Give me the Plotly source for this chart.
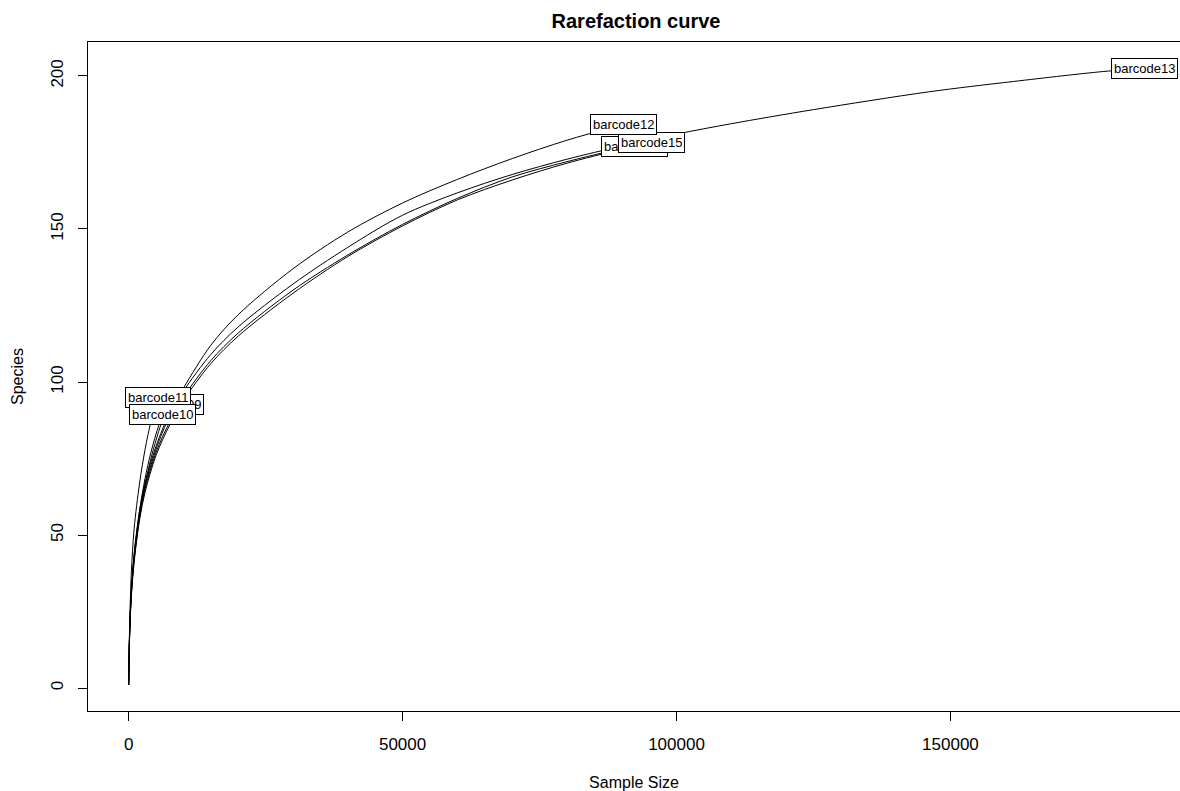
import plotly.graph_objects as go

# ---- data (sample size -> species) ----
n_b09 = [1, 200, 500, 1000, 2000, 3000, 4000, 5000, 6000, 7660]
s_b09 = [1, 19, 31, 42, 56, 66.5, 74.5, 81, 86.5, 92.6]

n_b10 = [1, 200, 500, 1000, 2000, 3000, 4000, 5000, 6200]
s_b10 = [1, 19, 32, 43, 58, 68.5, 76.5, 83, 89.5]

n_b11 = [1, 200, 500, 1000, 2000, 3000, 4000, 5000, 5400]
s_b11 = [1, 22, 38, 52, 67, 78, 86.5, 93, 95]

n_b12 = [1, 200, 500, 1000, 2000, 3000, 5000, 7500, 10000, 15000, 20000, 30000,
         40000, 50000, 60000, 70000, 80000, 90330]
s_b12 = [1, 20, 32, 44, 58, 67, 79, 90, 98, 112, 122, 137,
         149, 158.5, 166.2, 173, 179, 184.2]

n_b13 = [1, 200, 500, 1000, 2000, 3000, 5000, 7500, 10000, 15000, 20000, 30000,
         40000, 50000, 60000, 70000, 80000, 90000, 100000, 110000, 125000,
         146000, 161500, 178800, 185400]
s_b13 = [1, 19, 31, 43, 57, 66, 78, 89, 97, 109, 118, 132,
         144, 154.5, 161.8, 167.8, 172.8, 177.1, 181, 184.4, 189,
         194.8, 198.2, 201.6, 202.3]

n_b14 = [1, 200, 500, 1000, 2000, 3000, 5000, 7500, 10000, 15000, 20000, 30000,
         40000, 50000, 60000, 70000, 80000, 92340]
s_b14 = [1, 18, 30, 41, 55, 64, 76, 86, 94, 106, 115, 129,
         141, 151, 159.5, 166, 171.5, 177.1]

n_b15 = [1, 200, 500, 1000, 2000, 3000, 5000, 7500, 10000, 15000, 20000, 30000,
         40000, 50000, 60000, 70000, 80000, 90000, 95440]
s_b15 = [1, 19, 31, 42, 56, 65, 77, 87, 95, 107, 116, 130,
         141.5, 151.5, 160, 167, 172, 176.3, 178.2]

# label order = drawing order (later on top)
series = [
    ("barcode09", n_b09, s_b09),
    ("barcode11", n_b11, s_b11),
    ("barcode10", n_b10, s_b10),
    ("barcode14", n_b14, s_b14),
    ("barcode15", n_b15, s_b15),
    ("barcode12", n_b12, s_b12),
    ("barcode13", n_b13, s_b13),
]

x_ticks = [0, 50000, 100000, 150000]
y_ticks = [0, 50, 100, 150, 200]

FONT = "Liberation Sans, Arial, sans-serif"

fig = go.Figure()
for name, n, s in series:
    fig.add_trace(go.Scatter(
        x=n, y=s, mode="lines", name=name,
        line=dict(color="black", width=1, shape="spline", smoothing=0.9),
        showlegend=False, hoverinfo="x+y+name",
    ))

for name, n, s in series:
    fig.add_annotation(
        x=n[-1], y=s[-1], text=name, showarrow=False,
        xanchor="center", yanchor="middle",
        font=dict(family=FONT, size=13, color="black"),
        bgcolor="white", bordercolor="black", borderwidth=1, borderpad=2,
    )

fig.update_layout(
    width=1180, height=791,
    margin=dict(l=88, r=0, t=42, b=80),
    paper_bgcolor="white", plot_bgcolor="white",
    font=dict(family=FONT, color="black"),
    title=dict(text="<b>Rarefaction curve</b>", x=0.539, xanchor="center",
               y=1 - 21 / 791, yanchor="middle",
               font=dict(family=FONT, size=20, color="black")),
    xaxis=dict(
        range=[-7416, 191900], tickvals=x_ticks,
        ticktext=[str(v) for v in x_ticks],
        showgrid=False, zeroline=False,
        showline=True, linecolor="black", linewidth=1, mirror=True,
        ticks="outside", ticklen=9, tickcolor="black", tickwidth=1,
        tickfont=dict(family=FONT, size=17, color="black"),
        ticklabelstandoff=9,
        title=dict(text="Sample Size", standoff=25,
                   font=dict(family=FONT, size=16, color="black")),
    ),
    yaxis=dict(
        range=[-7.5, 211.1], tickvals=y_ticks,
        ticktext=[str(v) for v in y_ticks],
        showgrid=False, zeroline=False,
        showline=True, linecolor="black", linewidth=1, mirror=False,
        ticks="outside", ticklen=9, tickcolor="black", tickwidth=1,
        tickangle=-90,
        tickfont=dict(family=FONT, size=17, color="black"),
        ticklabelstandoff=8,
        title=dict(text="Species", standoff=20,
                   font=dict(family=FONT, size=16, color="black")),
    ),
)

fig.write_html("out.html")
